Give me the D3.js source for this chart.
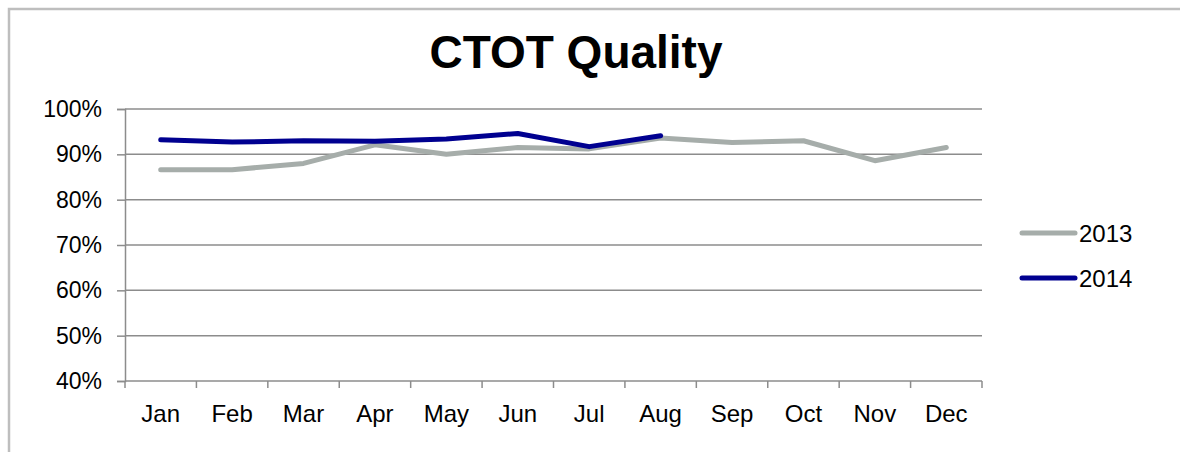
<!DOCTYPE html>
<html>
<head>
<meta charset="utf-8">
<script src="https://cdn.jsdelivr.net/npm/d3@7"></script>
<style>
  html, body { margin: 0; padding: 0; background: #fff; }
  svg { display: block; }
  text { font-family: "Liberation Sans", Arial, sans-serif; fill: #000; }
</style>
</head>
<body>
<svg id="chart" width="1180" height="452"></svg>
<script>
const months = ["Jan","Feb","Mar","Apr","May","Jun","Jul","Aug","Sep","Oct","Nov","Dec"];
const values2013 = [0.866, 0.866, 0.880, 0.921, 0.900, 0.915, 0.912, 0.936, 0.926, 0.930, 0.886, 0.915];
const values2014 = [0.932, 0.927, 0.930, 0.929, 0.934, 0.946, 0.917, 0.941];
const yTicks = [0.4, 0.5, 0.6, 0.7, 0.8, 0.9, 1.0];
const seriesNames = ["2013", "2014"];
const seriesColors = ["#A6ADAA", "#000090"];

(function () {
const svg = d3.select("#chart");

// outer frame
svg.append("path")
  .attr("d", "M9,452 L9,9 L1180,9")
  .attr("fill", "none").attr("stroke", "#BEBEBE").attr("stroke-width", 2.5);

// title
svg.append("text")
  .attr("x", 576).attr("y", 68)
  .attr("text-anchor", "middle")
  .style("font-size", "46px").style("font-weight", "bold")
  .text("CTOT Quality");

const pLeft = 125, pRight = 982, pTop = 109, pBottom = 381;
const x = d3.scaleBand().domain(months).range([pLeft, pRight]);
const y = d3.scaleLinear().domain([0.4, 1.0]).range([pBottom, pTop]);

// gridlines
svg.append("g").selectAll("line").data(yTicks.filter(d => d > 0.4)).join("line")
  .attr("x1", pLeft).attr("x2", pRight)
  .attr("y1", d => y(d)).attr("y2", d => y(d))
  .attr("stroke", "#8C8C8C").attr("stroke-width", 1.5);

// y axis
const yAxis = svg.append("g").attr("transform", `translate(${pLeft},0)`)
  .call(d3.axisLeft(y).tickValues(yTicks).tickFormat(d3.format(".0%")).tickSize(8).tickPadding(15));
yAxis.select(".domain").attr("stroke", "#8C8C8C").attr("stroke-width", 1.5);
yAxis.selectAll(".tick line").attr("stroke", "#8C8C8C").attr("stroke-width", 1.5);
yAxis.selectAll(".tick text").style("font-size", "23px").attr("fill", "#000")
  .style("font-family", "'Liberation Sans', Arial, sans-serif");

// x axis
const boundaries = d3.range(months.length + 1).map(i => pLeft + i * x.step());
const xAxisG = svg.append("g");
xAxisG.append("line").attr("x1", pLeft).attr("x2", pRight).attr("y1", pBottom).attr("y2", pBottom)
  .attr("stroke", "#8C8C8C").attr("stroke-width", 1.5);
xAxisG.selectAll("line.tk").data(boundaries).join("line").attr("class", "tk")
  .attr("x1", d => d).attr("x2", d => d).attr("y1", pBottom).attr("y2", pBottom + 7)
  .attr("stroke", "#8C8C8C").attr("stroke-width", 1.5);
xAxisG.selectAll("text").data(months).join("text")
  .attr("x", d => x(d) + x.bandwidth() / 2).attr("y", 422)
  .attr("text-anchor", "middle").style("font-size", "24px")
  .text(d => d);

// lines
const line = d3.line()
  .x((d, i) => x(months[i]) + x.bandwidth() / 2)
  .y(d => y(d));
[values2013, values2014].forEach((vals, k) => {
  svg.append("path").datum(vals)
    .attr("d", line)
    .attr("fill", "none")
    .attr("stroke", seriesColors[k])
    .attr("stroke-width", 5)
    .attr("stroke-linejoin", "round")
    .attr("stroke-linecap", "round");
});

// legend
const legendY = [233, 278];
seriesNames.forEach((name, k) => {
  svg.append("line")
    .attr("x1", 1022).attr("x2", 1075)
    .attr("y1", legendY[k]).attr("y2", legendY[k])
    .attr("stroke", seriesColors[k]).attr("stroke-width", 5)
    .attr("stroke-linecap", "round");
  svg.append("text")
    .attr("x", 1079).attr("y", legendY[k] + 9)
    .style("font-size", "24px")
    .text(name);
});
})();
</script>
</body>
</html>
